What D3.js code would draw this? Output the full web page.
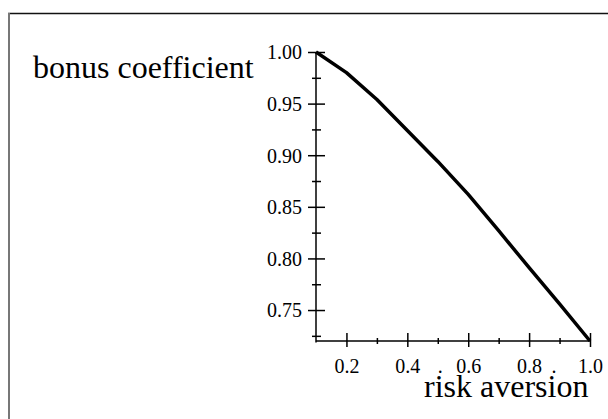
<!DOCTYPE html>
<html>
<head>
<meta charset="utf-8">
<script src="https://cdn.jsdelivr.net/npm/d3@7"></script>
<style>
  body { margin: 0; background: #fff; }
  svg { display: block; }
  text { font-family: "Liberation Serif", "Times New Roman", serif; fill: #000; }
</style>
</head>
<body>
<svg width="608" height="419"></svg>
<script>
// risk aversion values and the bonus coefficient
var riskAversion = [0.1, 0.2, 0.3, 0.4, 0.5, 0.6, 0.7, 0.8, 0.9, 1.0];
var bonusCoef = [1.0, 0.980, 0.954, 0.924, 0.894, 0.862, 0.827, 0.791, 0.756, 0.720];

var xMajor = [0.2, 0.4, 0.6, 0.8, 1.0];
var xMinor = [0.3, 0.5, 0.7, 0.9];
var yMajor = [0.75, 0.80, 0.85, 0.90, 0.95, 1.00];
var yMinor = [0.725, 0.775, 0.825, 0.875, 0.925, 0.975];
var strayDots = [0.508, 0.882];

var svg = d3.select("svg"),
  width = +svg.attr("width"),
  height = +svg.attr("height");

var x = d3.scaleLinear().domain([0.1, 1.0]).range([316, 590]);
var y = d3.scaleLinear().domain([0.72, 1.0]).range([341, 52]);

// frame
svg.append("line").attr("x1", 8).attr("x2", width).attr("y1", 13.5).attr("y2", 13.5)
  .attr("stroke", "#111").attr("stroke-width", 1.5);
svg.append("line").attr("x1", 9).attr("x2", 9).attr("y1", 13).attr("y2", height)
  .attr("stroke", "#777").attr("stroke-width", 2);

// y axis
var yAx = svg.append("g").attr("transform", "translate(" + x(0.1) + ",0)")
  .call(d3.axisLeft(y).tickValues(yMajor).tickFormat(d3.format(".2f")).tickSizeOuter(0));
yAx.select(".domain").remove();
yAx.selectAll(".tick line").attr("x1", 9).attr("x2", -8).attr("stroke-width", 1.5);
yAx.selectAll(".tick text").attr("x", -14).attr("dy", "0.34em")
  .style("font-size", "20px").style("font-family", null);

var yMin = svg.append("g").attr("transform", "translate(" + x(0.1) + ",0)")
  .call(d3.axisLeft(y).tickValues(yMinor).tickFormat(""));
yMin.select(".domain").remove();
yMin.selectAll(".tick line").attr("x1", 5).attr("x2", -4).attr("stroke-width", 1.5);

svg.append("line").attr("x1", x(0.1)).attr("x2", x(0.1)).attr("y1", y(1.0)).attr("y2", 342.5)
  .attr("stroke", "#000").attr("stroke-width", 1.5);

// x axis
var xAx = svg.append("g").attr("transform", "translate(0," + y(0.72) + ")")
  .call(d3.axisBottom(x).tickValues(xMajor).tickFormat(d3.format(".1f")).tickSizeOuter(0));
xAx.select(".domain").remove();
xAx.selectAll(".tick line").attr("y1", -8).attr("y2", 6).attr("stroke-width", 1.5);
xAx.selectAll(".tick text").attr("y", 32).attr("dy", 0)
  .style("font-size", "20px").style("font-family", null);

var xMin = svg.append("g").attr("transform", "translate(0," + y(0.72) + ")")
  .call(d3.axisBottom(x).tickValues(xMinor).tickFormat(""));
xMin.select(".domain").remove();
xMin.selectAll(".tick line").attr("y1", -3).attr("y2", 3).attr("stroke-width", 1.5);

svg.append("line").attr("x1", x(0.1)).attr("x2", x(1.0)).attr("y1", y(0.72)).attr("y2", y(0.72))
  .attr("stroke", "#000").attr("stroke-width", 1.5);

svg.selectAll(".stray").data(strayDots).enter().append("text")
  .attr("class", "stray")
  .attr("x", d => x(d)).attr("y", 373)
  .attr("text-anchor", "middle")
  .style("font-size", "20px")
  .text(".");

// curve
var line = d3.line().x((d, i) => x(riskAversion[i])).y(d => y(d));
svg.append("path").datum(bonusCoef)
  .attr("d", line)
  .attr("fill", "none")
  .attr("stroke", "#000")
  .attr("stroke-width", 3.5)
  .attr("stroke-linejoin", "round");

// axis titles
svg.append("text").attr("x", 33).attr("y", 78)
  .style("font-size", "32px").text("bonus coefficient");
svg.append("text").attr("x", 424).attr("y", 397)
  .style("font-size", "32px").text("risk aversion");
</script>
</body>
</html>
